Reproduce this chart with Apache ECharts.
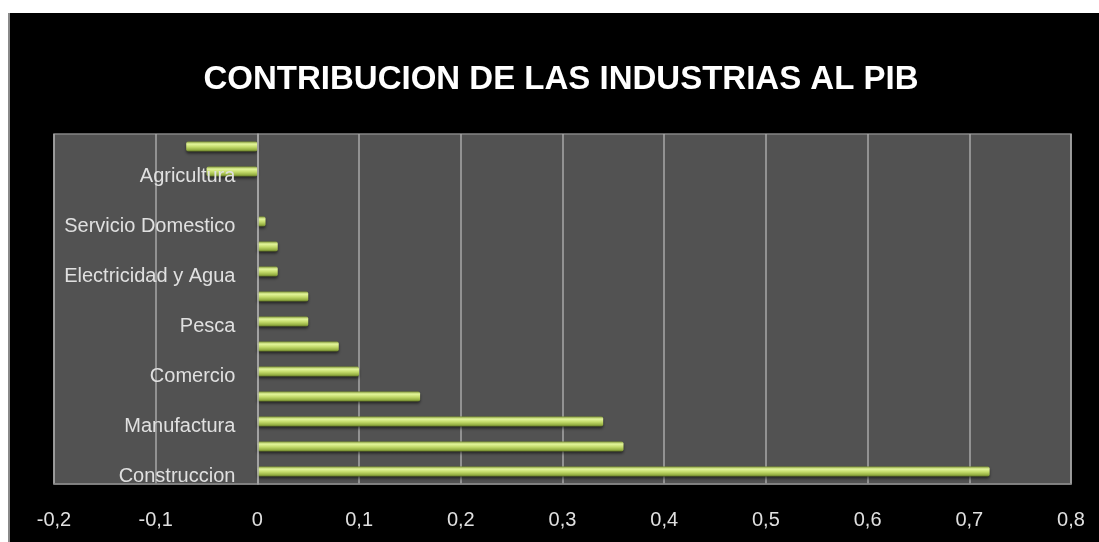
<!DOCTYPE html>
<html>
<head>
<meta charset="utf-8">
<title>Contribucion de las industrias al PIB</title>
<script src="https://cdn.jsdelivr.net/npm/echarts@6/dist/echarts.min.js"></script>
<style>
  html, body { margin: 0; padding: 0; background: #ffffff; }
  #chart { width: 1099px; height: 542px; }
</style>
</head>
<body>
<div id="chart"></div>
<script>
// Sectors from bottom to top; only every other name is printed on the axis
const categories = [
  'Construccion',
  'Mineria',
  'Manufactura',
  'Transporte',
  'Comercio',
  'Servicios Financieros',
  'Pesca',
  'Restaurantes y Hoteles',
  'Electricidad y Agua',
  'Telecomunicaciones',
  'Servicio Domestico',
  'Administracion Publica',
  'Agricultura',
  'Otros Servicios'
];

// Contribution of each sector to GDP growth (percentage points)
const contribution = [0.72, 0.36, 0.34, 0.16, 0.10, 0.08, 0.05, 0.05, 0.02, 0.02, 0.008, null, -0.05, -0.07];

// Value axis ticks
const tickMin = -0.2;
const tickMax = 0.8;
const tickStep = 0.1;

const FONT = "'Liberation Sans', Arial, sans-serif";

// plot box
const GRID_LEFT = 54;
const GRID_RIGHT = 28;
const GRID_WIDTH = 1099 - GRID_LEFT - GRID_RIGHT;
// the category axis sits where the value axis crosses zero
const zeroOffset = -GRID_WIDTH * (0 - tickMin) / (tickMax - tickMin);

const chart = echarts.init(document.getElementById('chart'), null, { renderer: 'canvas' });

chart.setOption({
  backgroundColor: '#000000',
  animation: false,
  title: {
    text: 'CONTRIBUCION DE LAS INDUSTRIAS AL PIB',
    left: 556,
    top: 75,
    textAlign: 'center',
    textVerticalAlign: 'middle',
    textStyle: {
      color: '#ffffff',
      fontFamily: FONT,
      fontWeight: 'bold',
      fontSize: 33
    }
  },
  graphic: [
    // white margin strips round the chart panel
    { type: 'rect', shape: { x: 0, y: 0, width: 1099, height: 13 }, style: { fill: '#ffffff' }, z: 100 },
    { type: 'rect', shape: { x: 0, y: 0, width: 8, height: 542 }, style: { fill: '#ffffff' }, z: 100 },
    { type: 'rect', shape: { x: 8, y: 13, width: 2, height: 529 }, style: { fill: '#8a8a8a' }, z: 100 }
  ],
  grid: {
    left: GRID_LEFT,
    right: GRID_RIGHT,
    top: 134,
    bottom: 58,
    containLabel: false,
    outerBoundsMode: 'none',
    show: true,
    backgroundColor: '#525252',
    borderColor: '#858585',
    borderWidth: 1.5
  },
  xAxis: {
    type: 'value',
    min: tickMin,
    max: tickMax,
    interval: tickStep,
    axisLine: { show: true, onZero: false, lineStyle: { color: '#858585', width: 1.5 } },
    axisTick: { show: false },
    splitLine: { show: true, lineStyle: { color: '#a8a8a8', width: 1.5 } },
    axisLabel: {
      color: '#e0e0e0',
      fontFamily: FONT,
      fontSize: 20,
      margin: 26,
      formatter: function (v) {
        const r = Math.round(v * 10) / 10;
        return String(r).replace('.', ',');
      }
    }
  },
  yAxis: {
    type: 'category',
    data: categories,
    position: 'left',
    offset: zeroOffset,
    axisLine: { show: true, onZero: false, lineStyle: { color: '#a8a8a8', width: 1.5 } },
    axisTick: { show: false },
    splitLine: { show: false },
    axisLabel: {
      interval: 1,
      margin: 22,
      // names sit a few pixels below their bars
      formatter: function (name) { return '{n|' + name + '}'; },
      rich: {
        n: {
          color: '#e0e0e0',
          fontFamily: FONT,
          fontSize: 20,
          lineHeight: 22,
          padding: [9, 0, 0, 0]
        }
      }
    },
    z: 3
  },
  series: [{
    type: 'bar',
    data: contribution,
    barWidth: 10,
    z: 2,
    itemStyle: {
      borderRadius: 2,
      color: new echarts.graphic.LinearGradient(0, 0, 0, 1, [
        { offset: 0, color: '#7f9535' },
        { offset: 0.25, color: '#e4f69c' },
        { offset: 0.55, color: '#c3da6a' },
        { offset: 0.85, color: '#93ad40' },
        { offset: 1, color: '#5c6e24' }
      ]),
      shadowColor: 'rgba(0,0,0,0.55)',
      shadowBlur: 3,
      shadowOffsetY: 2
    }
  }]
});
</script>
</body>
</html>
